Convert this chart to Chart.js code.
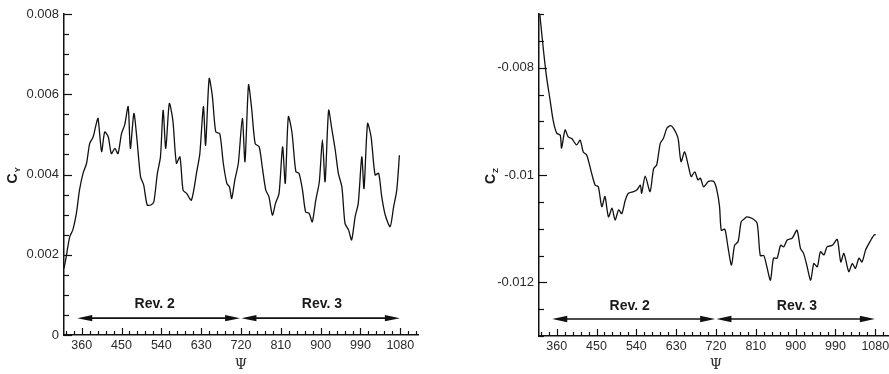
<!DOCTYPE html>
<html>
<head>
<meta charset="utf-8">
<script src="https://cdn.jsdelivr.net/npm/chart.js@4.4.1/dist/chart.umd.min.js"></script>
<style>
    html, body { margin: 0; padding: 0; background: #fff; width: 889px; height: 374px; overflow: hidden; }
    #leftChart { position: absolute; left: 0; top: 0; }
    #rightChart { position: absolute; left: 445px; top: 0; }
</style>
</head>
<body>
<canvas id="leftChart" width="430" height="374"></canvas>
<canvas id="rightChart" width="448" height="374"></canvas>
<script>
// C_Y history (left panel)
const psiY = [320, 325, 333, 340, 348, 355, 363, 371, 378, 386, 393, 397, 405, 412, 420, 427, 435, 442, 450, 457,
    465, 470, 478, 485, 493, 500, 508, 516, 523, 531, 538, 544, 550, 558, 566, 574, 582, 589, 597, 608,
    620, 627, 635, 640, 648, 655, 663, 672, 680, 688, 694, 699, 706, 714, 723, 729, 737, 744, 752, 761,
    768, 776, 783, 791, 798, 806, 814, 820, 827, 835, 844, 851, 859, 866, 874, 881, 889, 897, 904, 910,
    918, 925, 933, 940, 948, 955, 963, 970, 978, 985, 993, 998, 1006, 1014, 1023, 1031, 1038, 1046, 1057, 1065,
    1072, 1078];
const cY = [0.00166, 0.00195, 0.00245, 0.00262, 0.00303, 0.00361, 0.00403, 0.00428, 0.00477, 0.00494, 0.00527, 0.0054, 0.00457, 0.00506, 0.00494, 0.00452, 0.00465, 0.00452, 0.00502, 0.00523,
    0.00569, 0.00465, 0.00552, 0.00486, 0.00394, 0.00374, 0.00324, 0.00324, 0.00332, 0.00403, 0.00444, 0.0056, 0.00465, 0.00577, 0.00535, 0.00428, 0.00444, 0.00361, 0.00353, 0.00336,
    0.00407, 0.00452, 0.00569, 0.00473, 0.00639, 0.00598, 0.00506, 0.00502, 0.00428, 0.00378, 0.00369, 0.0034, 0.00386, 0.00428, 0.0054, 0.00432, 0.00623, 0.00565, 0.00477, 0.00469,
    0.00419, 0.00361, 0.00345, 0.00299, 0.00328, 0.00353, 0.00469, 0.00378, 0.00544, 0.00506, 0.00407, 0.00403, 0.00361, 0.00307, 0.00303, 0.00282, 0.00336, 0.00382, 0.00486, 0.00382,
    0.0056, 0.00515, 0.00461, 0.00403, 0.00369, 0.00278, 0.00262, 0.00237, 0.00295, 0.00328, 0.00444, 0.00365, 0.00527, 0.00494, 0.00399, 0.00403, 0.00345, 0.00299, 0.0027, 0.0032,
    0.00361, 0.00448];

// C_Z history (right panel)
const psiZ = [322, 330, 337, 345, 352, 360, 368, 371, 379, 386, 394, 405, 413, 420, 428, 439, 447, 454, 462, 469,
    477, 485, 492, 500, 507, 515, 522, 534, 541, 549, 552, 560, 571, 579, 586, 594, 601, 609, 617, 624,
    632, 635, 641, 649, 657, 664, 672, 679, 685, 692, 703, 715, 722, 728, 732, 740, 747, 755, 762, 770,
    777, 785, 790, 802, 813, 820, 828, 835, 843, 850, 858, 866, 873, 881, 892, 903, 911, 918, 926, 934,
    941, 949, 956, 964, 971, 983, 994, 1002, 1009, 1020, 1028, 1035, 1043, 1050, 1058, 1066, 1077, 1081];
const cZ = [-0.00702, -0.00767, -0.00817, -0.0086, -0.00898, -0.00922, -0.00926, -0.0095, -0.00916, -0.00929, -0.00932, -0.00944, -0.00935, -0.00957, -0.00963, -0.00997, -0.01019, -0.01022, -0.01059, -0.0104,
    -0.01078, -0.01062, -0.01084, -0.01065, -0.01072, -0.01047, -0.01034, -0.01031, -0.01028, -0.01019, -0.01034, -0.01002, -0.01031, -0.00988, -0.00981, -0.00941, -0.00932, -0.00913, -0.00908, -0.00913,
    -0.00926, -0.00935, -0.00975, -0.00957, -0.00981, -0.01003, -0.00994, -0.01009, -0.01006, -0.01022, -0.01012, -0.01012, -0.01028, -0.01059, -0.01103, -0.01101, -0.01134, -0.01168, -0.01131, -0.01124,
    -0.01087, -0.01081, -0.01078, -0.01081, -0.0109, -0.0115, -0.0115, -0.01171, -0.01196, -0.01155, -0.01155, -0.01131, -0.01134, -0.01121, -0.01118, -0.01103, -0.01137, -0.01146, -0.01171, -0.01196,
    -0.01165, -0.01171, -0.01143, -0.01149, -0.01134, -0.01131, -0.0112, -0.01162, -0.01146, -0.0118, -0.01165, -0.01174, -0.01155, -0.01162, -0.0114, -0.01127, -0.01112, -0.01111];

// axis ticks
const psiTicks = [360, 450, 540, 630, 720, 810, 900, 990, 1080];
const cyTicks = [0, 0.002, 0.004, 0.006, 0.008];
const czTicks = [-0.012, -0.01, -0.008];

// revolution markers
const revLabels = ['Rev. 2', 'Rev. 3'];
const revStart = [350, 721];
const revEnd = [718, 1079];
const revMid = [525, 903];

const ink = '#111';
const textColor = '#2a2a2a';

// values for the small inward ticks
function rangeTicks(from, to, step) {
    const out = [];
    for (let v = from; v <= to + step * 0.01; v += step) out.push(+v.toFixed(6));
    return out;
}

const decorPlugin = {
    id: 'decor',
    afterDraw(chart, args, opts) {
        const ctx = chart.ctx;
        const x = chart.scales.x;
        const y = chart.scales.y;
        const area = chart.chartArea;
        ctx.save();
        ctx.strokeStyle = ink;
        ctx.lineWidth = 1.2;

        // inward ticks on the y axis
        rangeTicks(opts.yMin, opts.yMax, 0.0005).forEach(v => {
            const py = Math.round(y.getPixelForValue(v)) + 0.5;
            const major = opts.yMajor.some(m => Math.abs(m - v) < 1e-7);
            ctx.beginPath();
            ctx.moveTo(area.left, py);
            ctx.lineTo(area.left + (major ? 8 : 5), py);
            ctx.stroke();
        });

        // inward ticks on the x axis
        rangeTicks(324, 1116, 18).forEach(v => {
            const px = Math.round(x.getPixelForValue(v)) + 0.5;
            if (px > area.right) return;
            const major = psiTicks.includes(v);
            ctx.beginPath();
            ctx.moveTo(px, area.bottom);
            ctx.lineTo(px, area.bottom - (major ? 7 : 4));
            ctx.stroke();
        });

        // Rev. arrows
        ctx.fillStyle = ink;
        ctx.lineWidth = 1.6;
        const ay = y.getPixelForValue(opts.arrowY);
        for (let i = 0; i < revLabels.length; i++) {
            const x0 = x.getPixelForValue(revStart[i]);
            const x1 = x.getPixelForValue(revEnd[i]);
            const head = 15;
            ctx.beginPath();
            ctx.moveTo(x0 + head - 2, ay);
            ctx.lineTo(x1 - head + 2, ay);
            ctx.stroke();
            ctx.beginPath();
            ctx.moveTo(x0, ay);
            ctx.lineTo(x0 + head, ay - 3.2);
            ctx.lineTo(x0 + head, ay + 3.2);
            ctx.closePath();
            ctx.fill();
            ctx.beginPath();
            ctx.moveTo(x1, ay);
            ctx.lineTo(x1 - head, ay - 3.2);
            ctx.lineTo(x1 - head, ay + 3.2);
            ctx.closePath();
            ctx.fill();

            ctx.font = 'bold 14px "Liberation Sans", Arial, sans-serif';
            ctx.fillStyle = '#1a1a1a';
            ctx.textAlign = 'center';
            ctx.textBaseline = 'middle';
            ctx.fillText(revLabels[i], x.getPixelForValue(revMid[i]), y.getPixelForValue(opts.labelY));
            ctx.fillStyle = ink;
        }

        // rotated y title with subscript
        const ty = (area.top + area.bottom) / 2 + 2;
        ctx.translate(area.left + opts.titleOffset, ty);
        ctx.rotate(-Math.PI / 2);
        ctx.fillStyle = '#1a1a1a';
        ctx.textAlign = 'left';
        ctx.textBaseline = 'alphabetic';
        ctx.font = 'bold 14px "Liberation Sans", Arial, sans-serif';
        const w = ctx.measureText('C').width;
        ctx.fillText('C', -w / 2 - 2, 0);
        ctx.font = 'bold 8px "Liberation Sans", Arial, sans-serif';
        ctx.fillText(opts.sub, w / 2 - 1, 3);
        ctx.restore();
    }
};

function makeChart(id, psi, vals, cfg) {
    const ctx = document.getElementById(id).getContext('2d');
    return new Chart(ctx, {
        type: 'line',
        data: {
            datasets: [{
                data: psi.map((p, i) => ({ x: p, y: vals[i] })),
                borderColor: ink,
                borderWidth: 1.3,
                pointRadius: 0,
                tension: 0.25,
                fill: false
            }]
        },
        options: {
            responsive: false,
            animation: false,
            events: [],
            layout: { padding: cfg.padding },
            plugins: {
                legend: { display: false },
                tooltip: { enabled: false },
                decor: cfg.decor
            },
            scales: {
                x: {
                    type: 'linear',
                    min: 320,
                    max: 1120,
                    afterBuildTicks: scale => { scale.ticks = psiTicks.map(v => ({ value: v })); },
                    afterFit: scale => { scale.height = cfg.xHeight; },
                    grid: { display: false, drawTicks: false },
                    border: { display: true, color: ink, width: 1.5 },
                    ticks: {
                        padding: 3,
                        color: textColor,
                        font: { family: '"Liberation Sans", Arial, sans-serif', size: 12.5 },
                        maxRotation: 0,
                        autoSkip: false,
                        callback: v => String(v)
                    },
                    title: {
                        display: true,
                        text: 'Ψ',
                        color: textColor,
                        padding: { top: 2, bottom: 0 },
                        font: { family: '"DejaVu Serif", "Liberation Serif", serif', size: 14 }
                    }
                },
                y: {
                    type: 'linear',
                    min: cfg.yMin,
                    max: cfg.yMax,
                    afterBuildTicks: scale => { scale.ticks = cfg.yTicks.map(v => ({ value: v })); },
                    afterFit: scale => { scale.width = cfg.yWidth; },
                    grid: { display: false, drawTicks: false },
                    border: { display: true, color: ink, width: 1.5 },
                    ticks: {
                        padding: 5,
                        color: textColor,
                        font: { family: '"Liberation Sans", Arial, sans-serif', size: 13 },
                        callback: v => String(+v.toFixed(4))
                    }
                }
            }
        },
        plugins: [decorPlugin]
    });
}

makeChart('leftChart', psiY, cY, {
    padding: { top: 14, right: 12, left: 0, bottom: 0 },
    xHeight: 39,
    yWidth: 64,
    yMin: 0,
    yMax: 0.008,
    yTicks: cyTicks,
    decor: { yMin: 0, yMax: 0.008, yMajor: cyTicks, arrowY: 0.00042, labelY: 0.00076, titleOffset: -47, sub: 'Y' }
});

makeChart('rightChart', psiZ, cZ, {
    padding: { top: 14, right: 0, left: 0, bottom: 0 },
    xHeight: 38,
    yWidth: 94,
    yMin: -0.013,
    yMax: -0.007,
    yTicks: czTicks,
    decor: { yMin: -0.013, yMax: -0.007, yMajor: czTicks, arrowY: -0.012684, labelY: -0.01244, titleOffset: -44, sub: 'Z' }
});
</script>
</body>
</html>
